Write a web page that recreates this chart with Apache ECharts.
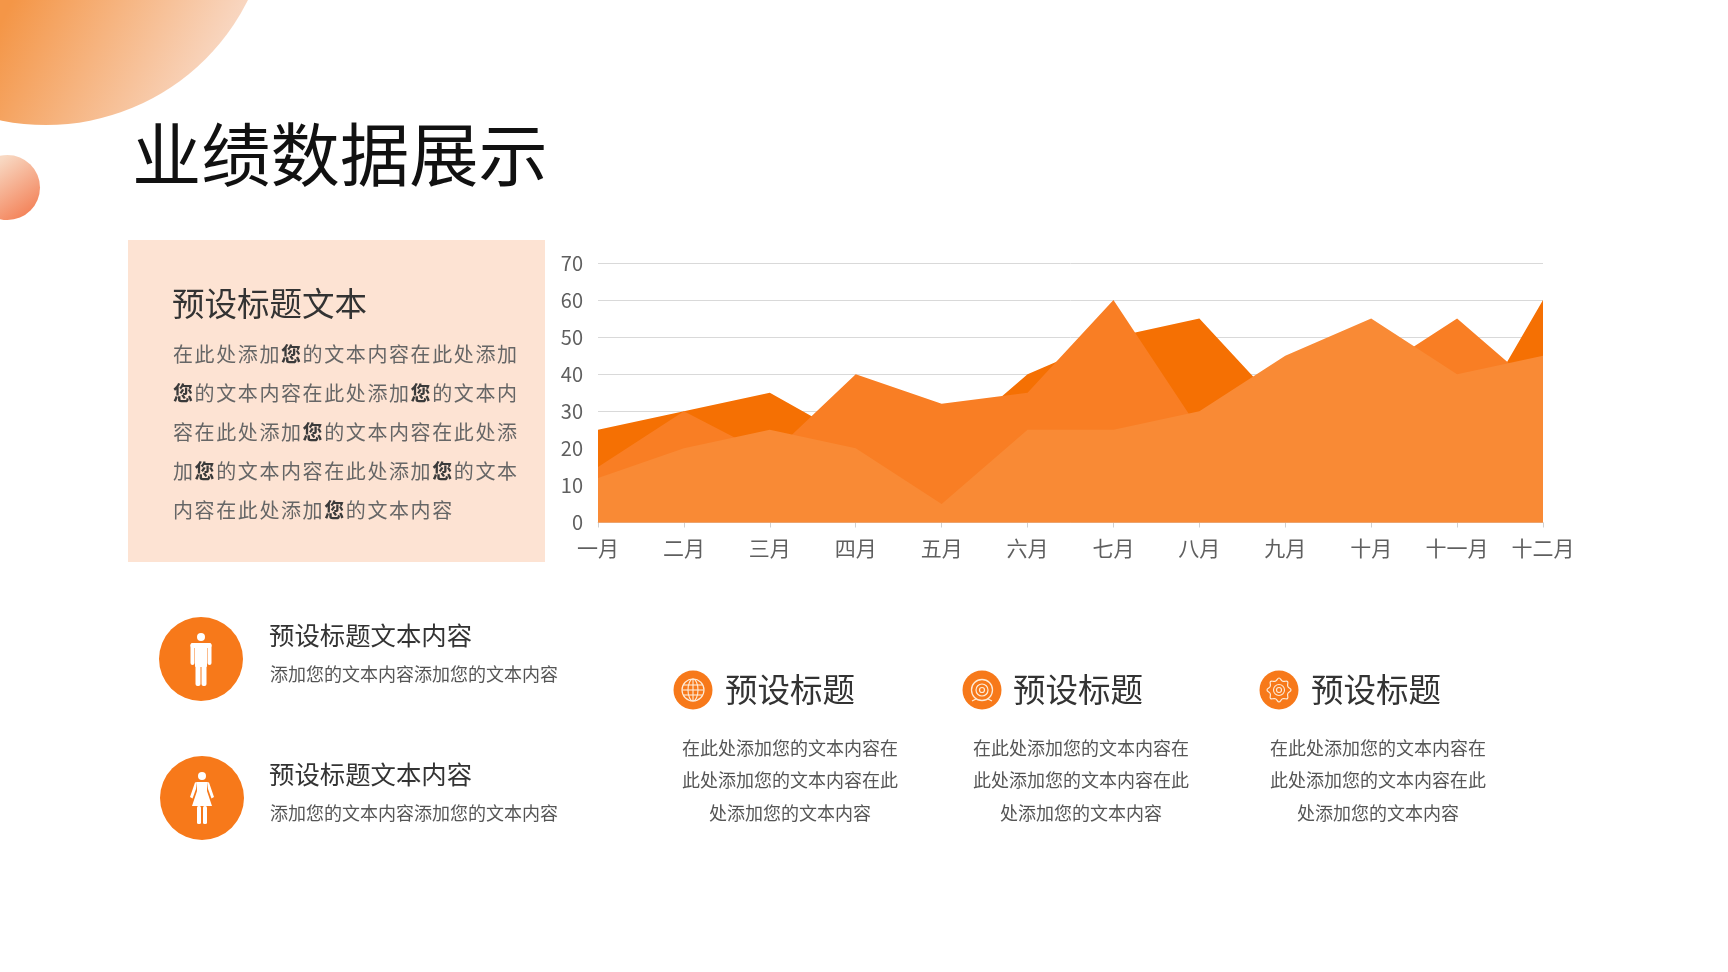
<!DOCTYPE html>
<html><head><meta charset="utf-8">
<style>
html,body{margin:0;padding:0;background:#fff;width:1728px;height:972px;overflow:hidden;font-family:"Noto Sans CJK SC","Noto Sans",sans-serif}
#c{position:absolute;left:0;top:0;width:1728px;height:972px}
.t{position:absolute;white-space:nowrap;line-height:1;font-weight:400;transform:translateY(-50%)}
.t b{font-weight:700;color:#3a3a3a}
</style></head><body>
<div id="c"></div>
<div id="txt"></div>
<script src="https://cdn.jsdelivr.net/npm/echarts@6/dist/echarts.min.js"></script>
<script>
const months=['一月','二月','三月','四月','五月','六月','七月','八月','九月','十月','十一月','十二月'];
const seriesBack=[25,30,35,22,20,40,50,55,30,30,20,60];
const seriesMid=[15,30,18,40,32,35,60,25,35,40,55,35];
const seriesFront=[12,20,25,20,5,25,25,30,45,55,40,45];
const pageTitle='业绩数据展示';
const panelTitle='预设标题文本';
const panelLines=['在此处添加您的文本内容在此处添加','您的文本内容在此处添加您的文本内','容在此处添加您的文本内容在此处添','加您的文本内容在此处添加您的文本','内容在此处添加您的文本内容'];
const itemTitle='预设标题文本内容';
const itemBody='添加您的文本内容添加您的文本内容';
const colTitle='预设标题';
const colLines=['在此处添加您的文本内容在','此处添加您的文本内容在此','处添加您的文本内容'];

const orange='#F7791A';
const cream='#FDEBD8';
function circle(cx,cy,r,fill){return {type:'circle',shape:{cx,cy,r},style:{fill}}}
function ring(cx,cy,r,lw){return {type:'circle',shape:{cx,cy,r},style:{fill:'none',stroke:cream,lineWidth:lw||1.2}}}
function seg(x1,y1,x2,y2){return {type:'line',shape:{x1,y1,x2,y2},style:{stroke:cream,lineWidth:1.1}}}
function solid(x,y,width,height,r){return {type:'rect',shape:{x,y,width,height,r:r||0},style:{fill:'#fff'}}}
function poly(points){return {type:'polygon',shape:{points},style:{fill:'#fff'}}}
function man(cx,top){return [
 {type:'circle',shape:{cx,cy:top+4,r:4},style:{fill:'#fff'}},
 solid(cx-6,top+10,12,24,1),
 solid(cx-10.5,top+10,4,22,2),solid(cx+6.5,top+10,4,22,2),
 solid(cx-10.5,top+10,21,5,2.5),
 solid(cx-5.5,top+30,5,23,2),solid(cx+.5,top+30,5,23,2)
];}
function woman(cx,top){return [
 {type:'circle',shape:{cx,cy:top+4,r:4},style:{fill:'#fff'}},
 poly([[cx-5,top+10],[cx+5,top+10],[cx+5,top+19],[cx+10,top+34],[cx-10,top+34],[cx-5,top+19]]),
 poly([[cx-5,top+10],[cx-7,top+10.5],[cx-12,top+25],[cx-9.5,top+26.5],[cx-6,top+17]]),
 poly([[cx+5,top+10],[cx+7,top+10.5],[cx+12,top+25],[cx+9.5,top+26.5],[cx+6,top+17]]),
 solid(cx-5,top+34,4,18,1.5),solid(cx+1,top+34,4,18,1.5)
];}
function globe(cx,cy){return [ring(cx,cy,11),
 {type:'ellipse',shape:{cx,cy,rx:5,ry:11},style:{fill:'none',stroke:cream,lineWidth:1.1}},
 seg(cx,cy-11,cx,cy+11),seg(cx-11,cy,cx+11,cy),seg(cx-10,cy-5,cx+10,cy-5),seg(cx-10,cy+5,cx+10,cy+5)];}
function target(cx,cy){return [ring(cx,cy,10.5,1.3),ring(cx,cy,6,1.2),ring(cx,cy,2.5,1.2),
 seg(cx-6,cy+9,cx-10,cy+11),seg(cx+6,cy+9,cx+10,cy+11)];}
function gear(cx,cy){
 const pts=[];const n=8;
 for(let i=0;i<n*2;i++){const a=i*Math.PI/n;const r=i%2?9.5:12;pts.push([cx+r*Math.cos(a),cy+r*Math.sin(a)]);}
 return [{type:'polygon',shape:{points:pts,smooth:.5},style:{fill:'none',stroke:cream,lineWidth:1.2}},ring(cx,cy,5.5,1.1),ring(cx,cy,2.5,1.1)];
}
const bigFill=new echarts.graphic.LinearGradient(0,25,215,135,[{offset:0,color:'#F49647'},{offset:1,color:'#F9E0D3'}],true);
const smallFill=new echarts.graphic.LinearGradient(0,160,38,215,[{offset:0,color:'#F8D8C2'},{offset:1,color:'#F37B50'}],true);
const decor=[
 circle(46,-100.7,225.7,bigFill),
 circle(7.5,187.5,32.5,smallFill),
 {type:'rect',shape:{x:128,y:240,width:417,height:322},style:{fill:'#FDE3D3'}},
 circle(201,659,42,orange),circle(202,798,42,orange),
 circle(693,690,19.5,orange),circle(982,690,19.5,orange),circle(1279,690,19.5,orange),
 ...man(201,633),...woman(202,772),...globe(693,690),...target(982,690),...gear(1279,690)
];
const chart=echarts.init(document.getElementById('c'));
const fontFamily='"Noto Sans CJK SC","Noto Sans",sans-serif';
function area(name,data,color){return {name,type:'line',data,symbol:'none',showSymbol:false,lineStyle:{width:0},areaStyle:{color,opacity:1},itemStyle:{color},silent:true,animation:false}}
chart.setOption({
 animation:false,
 grid:{left:598,right:185,top:263,bottom:449.5,containLabel:false},
 graphic:{elements:decor},
 xAxis:{type:'category',data:months,boundaryGap:false,
  axisLine:{lineStyle:{color:'#D9D9D9',width:1}},axisTick:{show:true,length:5,lineStyle:{color:'#D0D0D0'}},
  axisLabel:{color:'#5f5f5f',fontSize:21,fontFamily,margin:15,interval:0,showMinLabel:true,showMaxLabel:true,hideOverlap:false}},
 yAxis:{type:'value',min:0,max:70,interval:10,
  axisLine:{show:false},axisTick:{show:false},
  axisLabel:{color:'#5f5f5f',fontSize:20,fontFamily:'"Noto Sans CJK SC",sans-serif',margin:15},
  splitLine:{lineStyle:{color:'#D9D9D9',width:1}}},
 series:[area('系列一',seriesBack,'#F57003'),area('系列二',seriesMid,'#F97E24'),area('系列三',seriesFront,'#F98A35')]
});
const host=document.getElementById('txt');
function put(str,x,y,size,color,opt){opt=opt||{};
 const d=document.createElement('div');d.className='t';
 d.innerHTML=opt.bold?str.replace(/您/g,'<b>您</b>'):str;
 d.style.cssText+=`left:${x}px;top:${y}px;font-size:${size}px;color:${color};`+(opt.ls?`letter-spacing:${opt.ls}px;`:'')+(opt.center?'transform:translate(-50%,-50%);':'');
 host.appendChild(d);}
put(pageTitle,132,152,69.3,'#111');
put(panelTitle,172,302,32.5,'#333');
panelLines.forEach((l,i)=>put(l,173,354+i*39,20,'#666',{bold:true,ls:1.6}));
[[635,673],[774,812]].forEach(p=>{put(itemTitle,269,p[0],25.4,'#333');put(itemBody,270,p[1],18,'#555');});
[[725,790],[1013,1081],[1311,1378]].forEach(p=>{
 put(colTitle,p[0],687.5,32.5,'#333');
 colLines.forEach((l,i)=>put(l,p[1],746.5+i*32.5,18,'#555',{center:true}));
});
</script></body></html>
